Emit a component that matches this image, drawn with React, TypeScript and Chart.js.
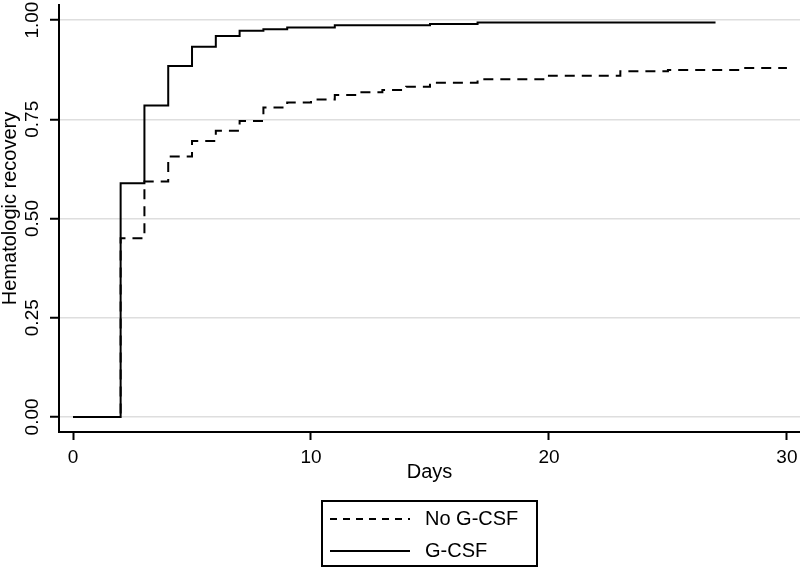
import React, { useEffect, useRef } from 'react';
import { Chart, registerables } from 'chart.js';

Chart.register(...registerables);

// ---- data ----
const gcsfDays = [0, 2, 3, 4, 5, 6, 7, 8, 9, 11, 15, 17, 27];
const gcsfRecovery = [0, 0.589, 0.785, 0.884, 0.933, 0.96, 0.973, 0.977, 0.981, 0.987, 0.99, 0.994, 0.994];
const noGcsfDays = [0, 2, 3, 4, 5, 6, 7, 8, 9, 10, 11, 12, 13, 14, 15, 17, 20, 23, 25, 28, 30];
const noGcsfRecovery = [0, 0.45, 0.593, 0.656, 0.695, 0.721, 0.746, 0.78, 0.792, 0.8, 0.811, 0.818, 0.824, 0.832, 0.842, 0.851, 0.86, 0.871, 0.874, 0.879, 0.879];
const xTicks = [0, 10, 20, 30];
const xTickLabels = ['0', '10', '20', '30'];
const yTicks = [0, 0.25, 0.5, 0.75, 1];
const yTickLabels = ['0.00', '0.25', '0.50', '0.75', '1.00'];
const seriesLabels = ['No G-CSF', 'G-CSF'];
const xTitle = 'Days';
const yTitle = 'Hematologic recovery';

const FONT = '"Liberation Sans", Arial, Helvetica, sans-serif';

const toPoints = (xs: number[], ys: number[]) => xs.map((x, i) => ({ x, y: ys[i] }));

const yTitlePlugin = {
  id: 'yTitleText',
  afterDraw(chart: any) {
    const { ctx, chartArea } = chart;
    ctx.save();
    ctx.translate(10.5, (chartArea.top + chartArea.bottom) / 2 - 10);
    ctx.rotate(-Math.PI / 2);
    ctx.font = `20px ${FONT}`;
    ctx.fillStyle = '#000';
    ctx.textAlign = 'center';
    ctx.textBaseline = 'middle';
    ctx.fillText(yTitle, 0, 0);
    ctx.restore();
  },
};

const boxLegendPlugin = {
  id: 'boxLegend',
  afterDraw(chart: any) {
    const { ctx, chartArea } = chart;
    const xs = chart.scales.x;
    const w = 215;
    const h = 65;
    const left = Math.round((chartArea.left + chartArea.right) / 2 - w / 2);
    const top = Math.round(xs.bottom) - 1;
    ctx.save();
    ctx.strokeStyle = '#000';
    ctx.lineWidth = 2;
    ctx.strokeRect(left, top, w, h);
    chart.data.datasets.forEach((ds: any, i: number) => {
      const y = top + 18 + i * 32;
      ctx.beginPath();
      ctx.setLineDash(i === 0 ? [7, 6] : []);
      ctx.lineWidth = 2;
      ctx.strokeStyle = '#000';
      ctx.moveTo(left + 8, y);
      ctx.lineTo(left + 88, y);
      ctx.stroke();
      ctx.setLineDash([]);
      ctx.fillStyle = '#000';
      ctx.font = `20px ${FONT}`;
      ctx.textBaseline = 'middle';
      ctx.textAlign = 'left';
      ctx.fillText(ds.label, left + 103, y);
    });
    ctx.restore();
  },
};

export default function App() {
  const canvasRef = useRef<HTMLCanvasElement | null>(null);

  useEffect(() => {
    document.body.style.margin = '0';
    const canvas = canvasRef.current;
    if (!canvas) return;
    const chart = new Chart(canvas, {
      type: 'line',
      data: {
        datasets: [
          {
            label: seriesLabels[0],
            data: toPoints(noGcsfDays, noGcsfRecovery),
            borderColor: '#000',
            borderWidth: 2,
            borderDash: [10, 7],
            stepped: 'before',
            pointRadius: 0,
            fill: false,
          },
          {
            label: seriesLabels[1],
            data: toPoints(gcsfDays, gcsfRecovery),
            borderColor: '#000',
            borderWidth: 2,
            stepped: 'before',
            pointRadius: 0,
            fill: false,
          },
        ],
      },
      options: {
        responsive: false,
        animation: false,
        events: [],
        layout: { padding: { top: 5, bottom: 67, left: 0, right: 0 } },
        plugins: {
          legend: { display: false },
          tooltip: { enabled: false },
          title: { display: false },
        },
        scales: {
          x: {
            type: 'linear',
            min: -0.59,
            max: 30.55,
            afterBuildTicks: (scale: any) => {
              scale.ticks = xTicks.map((v) => ({ value: v }));
            },
            afterFit: (scale: any) => {
              scale.height = 70;
              scale.paddingLeft = 0;
              scale.paddingRight = 0;
            },
            ticks: {
              includeBounds: false,
              autoSkip: false,
              maxRotation: 0,
              padding: 6,
              color: '#000',
              font: { family: FONT, size: 19 },
              callback: (v: any) => {
                const i = xTicks.indexOf(Number(v));
                return i >= 0 ? xTickLabels[i] : '';
              },
            },
            grid: {
              drawOnChartArea: false,
              drawTicks: true,
              tickLength: 8,
              tickColor: '#000',
              tickWidth: 2,
            },
            border: { display: true, color: '#000', width: 2 },
            title: {
              display: true,
              text: xTitle,
              color: '#000',
              font: { family: FONT, size: 20, lineHeight: 1.2 },
              padding: { top: 0, bottom: 18 },
            },
          },
          y: {
            type: 'linear',
            min: -0.038,
            max: 1.038,
            afterBuildTicks: (scale: any) => {
              scale.ticks = yTicks.map((v) => ({ value: v }));
            },
            afterFit: (scale: any) => {
              scale.width = 59;
              scale.paddingTop = 0;
              scale.paddingBottom = 0;
            },
            ticks: {
              includeBounds: false,
              autoSkip: false,
              minRotation: 90,
              maxRotation: 90,
              crossAlign: 'center',
              padding: -1.5,
              color: '#000',
              font: { family: FONT, size: 19 },
              callback: (v: any) => {
                const i = yTicks.findIndex((t) => Math.abs(t - Number(v)) < 1e-9);
                return i >= 0 ? yTickLabels[i] : '';
              },
            },
            grid: {
              color: '#dedede',
              lineWidth: 1.5,
              drawTicks: true,
              tickLength: 9,
              tickColor: '#000',
              tickWidth: 2,
            },
            border: { display: true, color: '#000', width: 2 },
            title: { display: false },
          },
        },
      },
      plugins: [yTitlePlugin, boxLegendPlugin],
    } as any);
    return () => chart.destroy();
  }, []);

  return (
    <div style={{ width: 800, height: 569, background: '#fff' }}>
      <canvas ref={canvasRef} width={800} height={569} style={{ display: 'block' }} />
    </div>
  );
}
